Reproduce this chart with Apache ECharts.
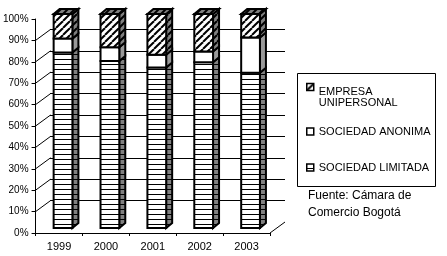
<!DOCTYPE html>
<html>
<head>
<meta charset="utf-8">
<script src="https://cdn.jsdelivr.net/npm/echarts@6/dist/echarts.min.js"></script>
<style>
  html, body { margin: 0; padding: 0; background: #fff; }
  #chart { width: 447px; height: 256px; }
</style>
</head>
<body>
<div id="chart"></div>
<script>
  var years = ['1999', '2000', '2001', '2002', '2003']
  var limitada = [82, 78, 75, 77.5, 72.5]
  var anonima = [6.5, 6.5, 6, 5, 16.5]
  var empresa = [11.5, 15.5, 19, 17.5, 11]
  var yTicks = [10, 20, 30, 40, 50, 60, 70, 80, 90]
  var names = ['SOCIEDAD LIMITADA', 'SOCIEDAD ANONIMA', 'EMPRESA UNIPERSONAL']
  var sourceLines = ['Fuente: Cámara de', 'Comercio Bogotá']

  var FONT = 'Liberation Sans'
  // 3d look: depth of the bars and of the walls
  var DX = 6, DY = -5, SHIFT_X = 4, SHIFT_Y = -5
  var WALL_DX = 15, WALL_DY = -11

  function makePattern(bg, draw, w, h) {
    var c = document.createElement('canvas')
    c.width = w
    c.height = h
    var ctx = c.getContext('2d')
    ctx.fillStyle = bg
    ctx.fillRect(0, 0, w, h)
    if (draw) draw(ctx, w, h)
    return { image: c, repeat: 'repeat' }
  }
  function stripes(ctx, w, h) {
    ctx.fillStyle = '#000'
    ctx.fillRect(0, h - 1, w, 1)
  }
  function hatch(ctx, w, h) {
    ctx.strokeStyle = '#000'
    ctx.lineWidth = 2
    for (var k = -1; k <= 1; k++) {
      ctx.beginPath()
      ctx.moveTo(k * w, h)
      ctx.lineTo(k * w + w, 0)
      ctx.stroke()
    }
  }

  var fronts = [makePattern('#fff', stripes, 5, 5), '#fff', makePattern('#fff', hatch, 7, 7)]
  var sides = [makePattern('#808080', stripes, 5, 5), '#999', makePattern('#808080', hatch, 7, 7)]
  var topFace = makePattern('#808080', hatch, 7, 7)

  function makeBar(front, side, top) {
    return function (params, api) {
      var base = api.value(1)
      var val = api.value(2)
      var p0 = api.coord([api.value(0), base])
      var p1 = api.coord([api.value(0), base + val])
      var w = api.size([1, 0])[0] * 0.4
      var l = p0[0] - w / 2 + SHIFT_X
      var r = l + w
      var yb = p0[1] + SHIFT_Y
      var yt = p1[1] + SHIFT_Y
      var kids = [
        {
          type: 'polygon',
          shape: { points: [[r, yb], [r + DX, yb + DY], [r + DX, yt + DY], [r, yt]] },
          style: { fill: side, stroke: '#000', lineWidth: 2 },
        },
        {
          type: 'rect',
          shape: { x: l, y: yt, width: w, height: yb - yt },
          style: { fill: front, stroke: '#000', lineWidth: 2 },
        },
      ]
      if (top) {
        kids.push({
          type: 'polygon',
          shape: { points: [[l, yt], [l + DX, yt + DY], [r + DX, yt + DY], [r, yt]] },
          style: { fill: top, stroke: '#000', lineWidth: 2 },
        })
      }
      return { type: 'group', children: kids }
    }
  }

  var stacks = [limitada, anonima, empresa]
  var barSeries = stacks.map(function (vals, s) {
    return {
      name: names[s],
      type: 'custom',
      xAxisIndex: 0,
      yAxisIndex: 0,
      renderItem: makeBar(fronts[s], sides[s], s === 2 ? topFace : null),
      itemStyle: { color: fronts[s], borderColor: '#000' },
      data: vals.map(function (v, i) {
        var base = 0
        for (var k = 0; k < s; k++) base += stacks[k][i]
        return [i, base, v]
      }),
      z: 3,
    }
  })

  // little diagonals from the y ticks to the back wall
  var wallSeries = {
    type: 'custom',
    xAxisIndex: 0,
    yAxisIndex: 0,
    silent: true,
    renderItem: function (params, api) {
      var cs = params.coordSys
      var y = api.coord([0, api.value(1)])[1]
      var x = api.value(2) ? cs.x + cs.width : cs.x
      return {
        type: 'line',
        shape: { x1: x, y1: y, x2: x + WALL_DX, y2: y + WALL_DY },
        style: { stroke: '#000', lineWidth: 1 },
      }
    },
    data: yTicks.map(function (v) { return [0, v, 0] }).concat([[0, 0, 1]]),
    z: 1,
  }

  function legendAt(name, top, fmt) {
    var idx = names.indexOf(name)
    return {
      left: 306,
      top: top,
      padding: 0,
      orient: 'vertical',
      itemWidth: 7,
      itemHeight: 7,
      selectedMode: false,
      formatter: fmt || '{name}',
      textStyle: {
        color: '#000',
        fontSize: 11,
        fontFamily: FONT,
        rich: {
          s: { fontSize: 11, fontFamily: FONT, lineHeight: 20 },
          a: { color: '#000', fontSize: 11, fontFamily: FONT, lineHeight: 11 },
        },
      },
      data: [{
        name: name,
        icon: 'rect',
        itemStyle: { color: fronts[idx], borderColor: '#000', borderWidth: 1.5 },
      }],
    }
  }

  var chart = echarts.init(document.getElementById('chart'))
  var option = {
    animation: false,
    backgroundColor: '#fff',
    grid: [
      { left: 35, right: 177, top: 19, bottom: 23 },
      { left: 35 + WALL_DX, right: 177 - WALL_DX, top: 19 + WALL_DY, bottom: 23 - WALL_DY },
    ],
    xAxis: [
      {
        type: 'category',
        gridIndex: 0,
        data: years,
        axisLine: { lineStyle: { color: '#000', width: 1 } },
        axisTick: { show: true, length: 3, lineStyle: { color: '#000' } },
        axisLabel: { color: '#000', fontSize: 11, fontFamily: FONT, margin: 8 },
      },
      { type: 'category', gridIndex: 1, data: years, show: false },
    ],
    yAxis: [
      {
        type: 'value',
        gridIndex: 0,
        min: 0,
        max: 100,
        interval: 10,
        axisLine: { show: true, lineStyle: { color: '#000', width: 1 } },
        axisTick: { show: true, length: 4, lineStyle: { color: '#000' } },
        axisLabel: { color: '#000', fontSize: 10, fontFamily: FONT, margin: 7, formatter: '{value}%' },
        splitLine: { show: false },
      },
      {
        type: 'value',
        gridIndex: 1,
        min: 0,
        max: 100,
        interval: 10,
        axisLine: { show: false },
        axisTick: { show: false },
        axisLabel: { show: false },
        splitLine: { show: true, showMinLine: false, showMaxLine: false, lineStyle: { color: '#000', width: 1 } },
      },
    ],
    legend: [
      legendAt(names[2], 70.5, function () { return '{s| }\n{a|EMPRESA}\n{a|UNIPERSONAL}' }),
      legendAt(names[1], 126),
      legendAt(names[0], 162),
    ],
    graphic: [
      {
        type: 'rect',
        shape: { x: 297.5, y: 73.5, width: 138, height: 113 },
        style: { fill: null, stroke: '#000', lineWidth: 1 },
        silent: true,
      },
      {
        type: 'text',
        left: 308,
        top: 187,
        style: { text: sourceLines.join('\n'), fill: '#000', font: '12px ' + FONT, lineHeight: 17 },
        silent: true,
      },
    ],
    series: [wallSeries].concat(barSeries),
  }
  chart.setOption(option)
</script>
</body>
</html>
